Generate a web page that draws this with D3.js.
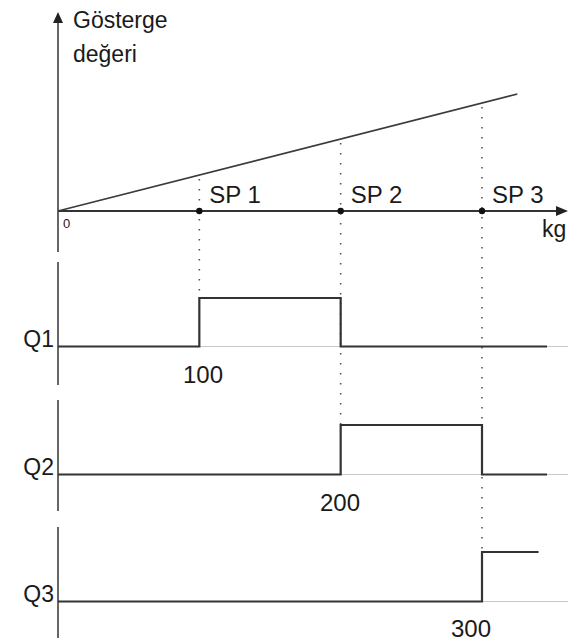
<!DOCTYPE html>
<html>
<head>
<meta charset="utf-8">
<script src="https://cdn.jsdelivr.net/npm/d3@7"></script>
<style>
  html, body { margin: 0; padding: 0; background: #fff; }
  svg { display: block; }
  text { font-family: "Liberation Sans", Arial, sans-serif; fill: #1a1a1a; }
</style>
</head>
<body>
<svg id="chart" width="573" height="642"></svg>
<script>
// Set points on the weight axis (kg) and their labels
const setpointsKg = [100, 200, 300];
const setpointLabels = ["SP 1", "SP 2", "SP 3"];
const thresholdLabels = ["100", "200", "300"];

// Indicator value rising linearly with weight
const indicatorKg = [0, 325];
const indicatorValue = [0, 325];

// Switching outputs: breakpoints (kg) and the state held from each breakpoint on
const outputNames = ["Q1", "Q2", "Q3"];
const switchKg = [
  [0, 100, 200, 346],
  [0, 200, 300, 346],
  [0, 300, 340]
];
const switchState = [
  [0, 1, 0, 0],
  [0, 1, 0, 0],
  [0, 1, 1]
];

const svg = d3.select("#chart");

// Shared weight scale
const x = d3.scaleLinear().domain([0, 300]).range([58, 482]);
const axisEndKg = 361;

// Top plot: indicator value
const yTop = d3.scaleLinear().domain([0, 325]).range([211, 94]);

const dark = "#333";
const axisGrey = "#666";

// Vertical axis with arrow
svg.append("line")
  .attr("x1", x(0)).attr("x2", x(0))
  .attr("y1", 20).attr("y2", 252)
  .attr("stroke", axisGrey).attr("stroke-width", 2);
svg.append("path")
  .attr("d", `M${x(0)},12 L${x(0) - 5},23 L${x(0) + 5},23 Z`)
  .attr("fill", "#222");

// Horizontal axis with arrow
svg.append("line")
  .attr("x1", x(0)).attr("x2", 558)
  .attr("y1", yTop(0)).attr("y2", yTop(0))
  .attr("stroke", dark).attr("stroke-width", 2);
svg.append("path")
  .attr("d", `M568,${yTop(0)} L556,${yTop(0) - 5} L556,${yTop(0) + 5} Z`)
  .attr("fill", "#222");

// Axis titles
const yTitle = svg.append("text").attr("x", 73).attr("font-size", 23);
yTitle.append("tspan").attr("x", 73).attr("y", 28).text("Gösterge");
yTitle.append("tspan").attr("x", 73).attr("y", 62).text("değeri");
svg.append("text").attr("x", 542).attr("y", 237).attr("font-size", 23).text("kg");
svg.append("text").attr("x", 63).attr("y", 228).attr("font-size", 13).text("0");

// Indicator line
const indicatorPts = indicatorKg.map((k, i) => [k, indicatorValue[i]]);
svg.append("path")
  .datum(indicatorPts)
  .attr("d", d3.line().x(d => x(d[0])).y(d => yTop(d[1])))
  .attr("fill", "none").attr("stroke", "#3a3a3a").attr("stroke-width", 1.6);

// Output panels: baseline y and high-level y
const panelBase = [346.5, 474.5, 601.5];
const panelHigh = [298, 425, 552];
const panelAxis = [[262, 385], [400, 511], [527, 638]];
const thresholdPos = [[203, 383], [340, 511], [471, 637]];

// Dotted guides from the indicator line down to the switching edge
setpointsKg.forEach((k, i) => {
  svg.append("line")
    .attr("x1", x(k)).attr("x2", x(k))
    .attr("y1", yTop(k) + 4).attr("y2", panelHigh[i])
    .attr("stroke", "#555").attr("stroke-width", 1.6)
    .attr("stroke-dasharray", "1.6,8.4");
});

// Set point markers and labels
setpointsKg.forEach((k, i) => {
  svg.append("circle")
    .attr("cx", x(k)).attr("cy", yTop(0)).attr("r", 3.2)
    .attr("fill", "#111");
  svg.append("text")
    .attr("x", x(k) + 10).attr("y", 203)
    .attr("font-size", 24)
    .text(setpointLabels[i]);
});

outputNames.forEach((name, i) => {
  const yP = d3.scaleLinear().domain([0, 1]).range([panelBase[i], panelHigh[i]]);

  // panel vertical axis
  svg.append("line")
    .attr("x1", x(0)).attr("x2", x(0))
    .attr("y1", panelAxis[i][0]).attr("y2", panelAxis[i][1])
    .attr("stroke", axisGrey).attr("stroke-width", 2);

  // light reference baseline
  svg.append("line")
    .attr("x1", x(0)).attr("x2", x(axisEndKg))
    .attr("y1", yP(0)).attr("y2", yP(0))
    .attr("stroke", "#c8c8c8").attr("stroke-width", 1.2);

  // switching signal
  const pts = switchKg[i].map((k, j) => [k, switchState[i][j]]);
  svg.append("path")
    .datum(pts)
    .attr("d", d3.line().x(d => x(d[0])).y(d => yP(d[1])).curve(d3.curveStepAfter))
    .attr("fill", "none").attr("stroke", dark).attr("stroke-width", 2.2);

  // output name
  svg.append("text")
    .attr("x", 54).attr("y", panelBase[i] + 0.5)
    .attr("text-anchor", "end")
    .attr("font-size", 23)
    .text(name);

  // switching threshold
  svg.append("text")
    .attr("x", thresholdPos[i][0]).attr("y", thresholdPos[i][1])
    .attr("text-anchor", "middle")
    .attr("font-size", 24)
    .text(thresholdLabels[i]);
});
</script>
</body>
</html>
